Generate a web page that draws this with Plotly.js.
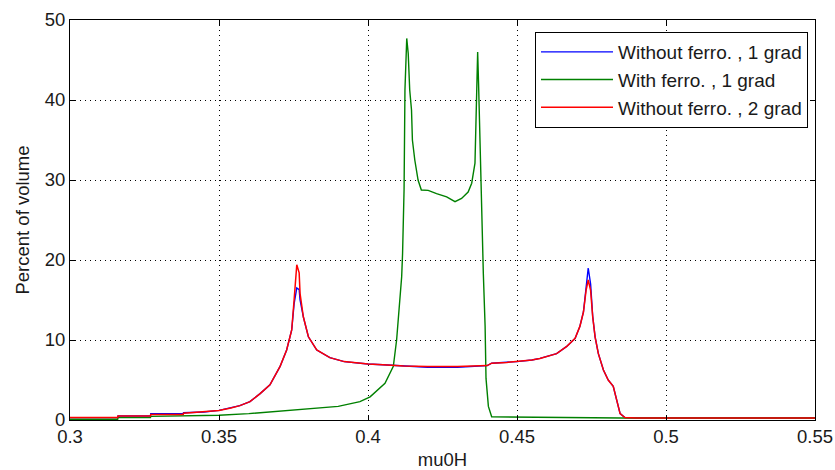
<!DOCTYPE html>
<html>
<head>
<meta charset="utf-8">
<script src="https://cdn.plot.ly/plotly-3.0.1.min.js"></script>
<style>html,body{margin:0;padding:0;background:#fff;}#chart{width:835px;height:470px;}</style>
</head>
<body>
<div id="chart"></div>
<script>
// Without ferro., 2 grad (red) and 1 grad (blue) share the same field grid
const xNoFerro = [0.3, 0.316, 0.3161, 0.327, 0.3271, 0.338, 0.3381, 0.345, 0.35, 0.354, 0.357, 0.3604, 0.3638, 0.3671, 0.3705, 0.3727, 0.3744, 0.3752, 0.3761, 0.3769, 0.3772, 0.3783, 0.38, 0.3828, 0.3872, 0.392, 0.397, 0.4, 0.405, 0.412, 0.42, 0.43, 0.44, 0.4415, 0.4466, 0.45, 0.455, 0.4577, 0.4633, 0.4667, 0.4695, 0.4711, 0.4723, 0.4732, 0.4739, 0.4747, 0.4754, 0.4762, 0.4773, 0.479, 0.4806, 0.4823, 0.4834, 0.4846, 0.4862, 0.49, 0.55];
const yRed2grad = [0.3, 0.3, 0.5, 0.5, 0.7, 0.7, 0.85, 1.0, 1.2, 1.5, 1.8, 2.3, 3.3, 4.4, 6.7, 8.75, 11.25, 15.0, 19.4, 18.4, 15.8, 12.9, 10.4, 8.75, 7.8, 7.3, 7.1, 7.0, 6.9, 6.75, 6.7, 6.7, 6.8, 7.1, 7.2, 7.3, 7.5, 7.7, 8.3, 9.2, 10.2, 11.7, 13.5, 16.25, 17.5, 16.2, 12.9, 10.4, 8.3, 6.25, 5.0, 4.2, 2.5, 0.8, 0.3, 0.25, 0.25];
const yBlue1grad = [0.3, 0.3, 0.5, 0.5, 0.8, 0.8, 0.9, 1.0, 1.2, 1.5, 1.8, 2.3, 3.3, 4.4, 6.7, 8.75, 11.25, 14.5, 16.5, 16.3, 15.0, 12.9, 10.4, 8.75, 7.8, 7.3, 7.1, 7.0, 6.9, 6.75, 6.6, 6.6, 6.8, 7.1, 7.2, 7.3, 7.5, 7.7, 8.3, 9.2, 10.2, 11.7, 13.5, 16.5, 19.0, 17.0, 13.0, 10.4, 8.3, 6.25, 5.0, 4.2, 2.5, 0.8, 0.3, 0.25, 0.25];

// With ferro., 1 grad (green)
const xFerro = [0.3, 0.316, 0.3161, 0.327, 0.3271, 0.35, 0.36, 0.374, 0.39, 0.3973, 0.4007, 0.4057, 0.4085, 0.4096, 0.4107, 0.4113, 0.4116, 0.4121, 0.4124, 0.413, 0.4135, 0.414, 0.4146, 0.4149, 0.4157, 0.4168, 0.4179, 0.4202, 0.423, 0.4264, 0.4292, 0.4314, 0.4336, 0.4348, 0.4359, 0.4362, 0.4365, 0.4368, 0.4371, 0.4376, 0.4381, 0.4387, 0.4393, 0.4396, 0.4404, 0.4415, 0.485, 0.55];
const yGreen1grad = [0.1, 0.1, 0.3, 0.3, 0.45, 0.6, 0.8, 1.2, 1.7, 2.3, 2.9, 4.6, 6.7, 10.0, 14.6, 17.9, 20.8, 28.75, 41.25, 47.7, 45.8, 41.25, 38.75, 35.0, 32.5, 30.0, 28.75, 28.7, 28.3, 27.9, 27.3, 27.7, 28.5, 29.6, 32.1, 36.25, 42.7, 46.0, 42.1, 34.2, 26.25, 18.3, 11.7, 5.2, 1.7, 0.4, 0.25, 0.25];

const seriesNames = ["Without ferro. , 1 grad", "With ferro. , 1 grad", "Without ferro. , 2 grad"];
const xTicks = [0.3, 0.35, 0.4, 0.45, 0.5, 0.55];
const xTickLabels = ["0.3", "0.35", "0.4", "0.45", "0.5", "0.55"];
const yTicks = [0, 10, 20, 30, 40, 50];

const font = {family: '"Liberation Sans", Arial, sans-serif', size: 18.5, color: '#1a1a1a'};
const legendFont = {family: '"Liberation Sans", Arial, sans-serif', size: 19, color: '#1a1a1a'};

const traces = [
  {x: xNoFerro, y: yBlue1grad, name: seriesNames[0], mode: 'lines', line: {color: '#0000ff', width: 1.4}},
  {x: xFerro, y: yGreen1grad, name: seriesNames[1], mode: 'lines', line: {color: '#008000', width: 1.4}},
  {x: xNoFerro, y: yRed2grad, name: seriesNames[2], mode: 'lines', line: {color: '#ff0000', width: 1.5}}
];

const axisCommon = {
  showline: true, linecolor: '#000', linewidth: 1, mirror: 'ticks',
  ticks: 'inside', ticklen: 5, tickcolor: '#000', tickwidth: 1,
  showgrid: true, gridcolor: '#000', gridwidth: 1, griddash: '1px,4px',
  zeroline: false, tickfont: font, automargin: false
};

const layout = {
  width: 835, height: 470,
  margin: {l: 70, r: 20, t: 20, b: 50},
  paper_bgcolor: '#fff', plot_bgcolor: '#fff',
  font: font,
  showlegend: true,
  legend: {
    x: 0.9906, xanchor: 'right', y: 0.97, yanchor: 'top',
    bgcolor: '#fff', bordercolor: '#000', borderwidth: 1,
    font: legendFont, itemwidth: 72, traceorder: 'normal'
  },
  xaxis: Object.assign({}, axisCommon, {
    range: [0.3, 0.55], tickvals: xTicks, ticktext: xTickLabels,
    title: {text: 'mu0H', font: font, standoff: 8}
  }),
  yaxis: Object.assign({}, axisCommon, {
    range: [0, 50], tickvals: yTicks,
    title: {text: 'Percent of volume', font: font, standoff: 10}
  })
};

Plotly.newPlot('chart', traces, layout, {displayModeBar: false, staticPlot: true});
</script>
</body>
</html>
